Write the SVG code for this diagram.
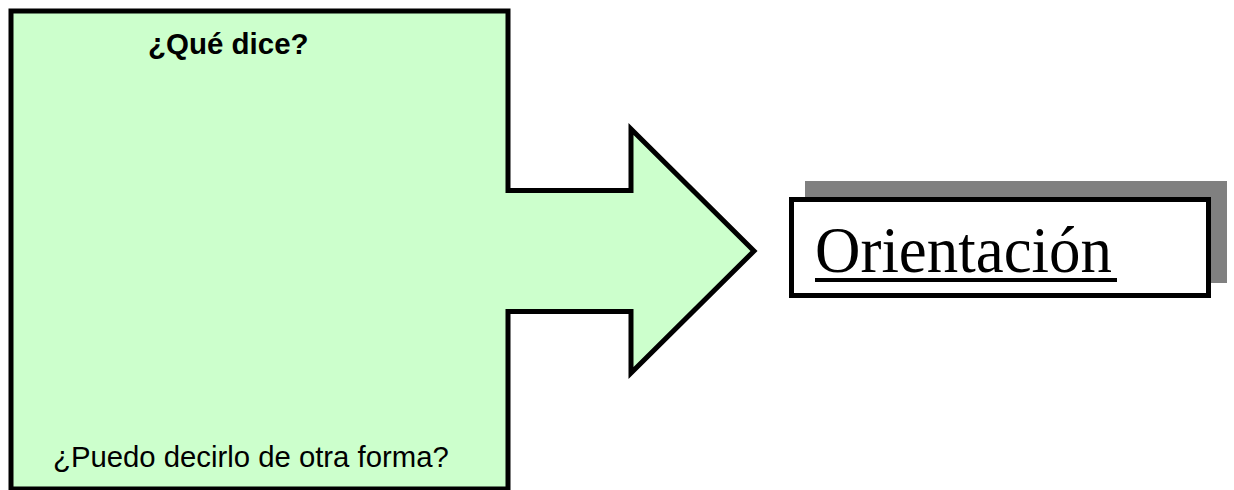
<svg xmlns="http://www.w3.org/2000/svg" width="1234" height="490" viewBox="0 0 1234 490">
<style>
.shape{fill:#ccffcc;stroke:#000;stroke-width:5;stroke-linejoin:miter}
.sans{font-family:"Liberation Sans",Arial,sans-serif;fill:#000}
.serif{font-family:"Liberation Serif","Times New Roman",serif;fill:#000}
</style>
<rect width="1234" height="490" fill="#fff"/>
<g id="callout">
<path class="shape" d="M11,11 H508 V190.5 H631 V129 L754,251 L631,373 V311.5 H508 V489 H11 Z"/>
<text class="sans" x="148" y="54" font-size="29.5" font-weight="bold">¿Qué dice?</text>
<text class="sans" x="53" y="467" font-size="29.3">¿Puedo decirlo de otra forma?</text>
</g>
<g id="orientacion">
<rect x="805" y="181" width="422" height="102" fill="#808080"/>
<rect x="791.5" y="199.5" width="417" height="96" fill="#fff" stroke="#000" stroke-width="5"/>
<text class="serif" x="815" y="272" font-size="66" textLength="297" lengthAdjust="spacingAndGlyphs">Orientación</text>
<rect x="815" y="278" width="302" height="4" fill="#000"/>
</g>
<g id="connectors"/>
</svg>
